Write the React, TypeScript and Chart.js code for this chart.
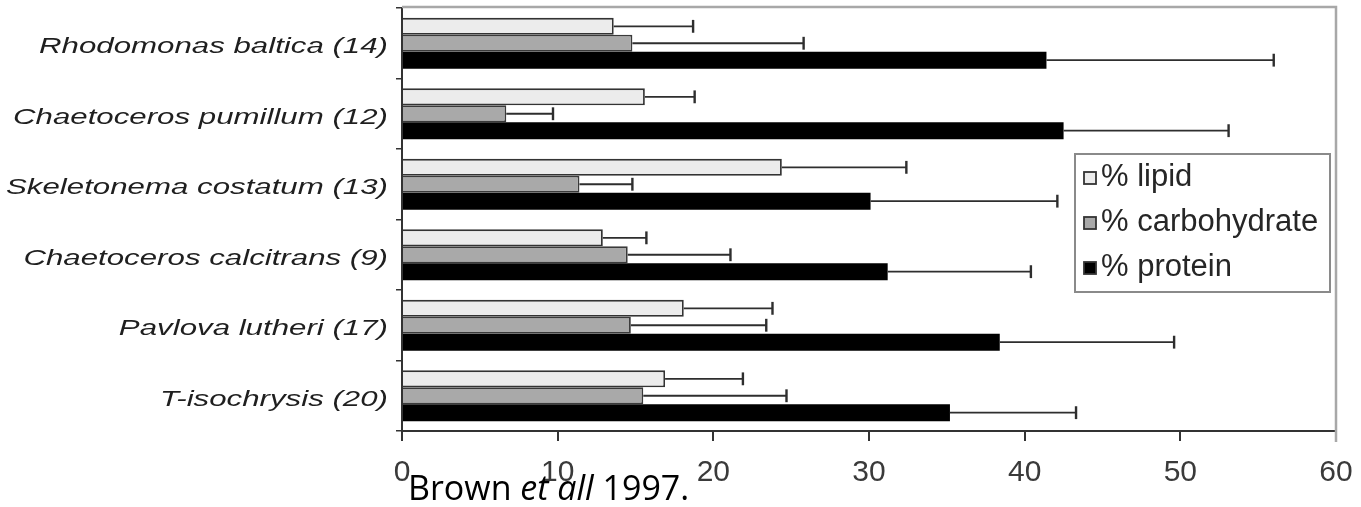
import React, { useEffect, useRef } from "react";
import { Chart, registerables } from "chart.js";

Chart.register(...registerables);

const categories = [
  "Rhodomonas baltica (14)",
  "Chaetoceros pumillum (12)",
  "Skeletonema costatum (13)",
  "Chaetoceros calcitrans (9)",
  "Pavlova lutheri (17)",
  "T-isochrysis (20)",
];
const seriesNames = ["% lipid", "% carbohydrate", "% protein"];
const lipid = [13.6, 15.6, 24.4, 12.9, 18.1, 16.9];
const lipidErr = [5.1, 3.2, 8.0, 2.8, 5.7, 5.0];
const carbohydrate = [14.8, 6.7, 11.4, 14.5, 14.7, 15.5];
const carbohydrateErr = [11.0, 3.0, 3.4, 6.6, 8.7, 9.2];
const protein = [41.4, 42.5, 30.1, 31.2, 38.4, 35.2];
const proteinErr = [14.6, 10.6, 12.0, 9.2, 11.2, 8.1];
const xTicks = [0, 10, 20, 30, 40, 50, 60];

const fills = ["#ececec", "#a9a9a9", "#000000"];
const borders = ["#333333", "#3a3a3a", "#000000"];
const errors = [lipidErr, carbohydrateErr, proteinErr];

const errorBarPlugin = {
  id: "errorBars",
  afterDatasetsDraw(chart: any) {
    const ctx = chart.ctx;
    const xs = chart.scales.x;
    ctx.save();
    chart.data.datasets.forEach((ds: any, di: number) => {
      const meta = chart.getDatasetMeta(di);
      meta.data.forEach((bar: any, i: number) => {
        const v = ds.data[i];
        const end = xs.getPixelForValue(v + errors[di][i]);
        const h = bar.height;
        ctx.strokeStyle = "#2e2e2e";
        ctx.lineWidth = 1.8;
        ctx.beginPath();
        ctx.moveTo(bar.x, bar.y);
        ctx.lineTo(end, bar.y);
        ctx.stroke();
        ctx.lineWidth = 2.4;
        ctx.beginPath();
        ctx.moveTo(end, bar.y - h * 0.38);
        ctx.lineTo(end, bar.y + h * 0.38);
        ctx.stroke();
      });
    });
    ctx.restore();
  },
};

const framePlugin = {
  id: "frameAndLabels",
  beforeDatasetsDraw(chart: any) {
    const { ctx, chartArea: a } = chart;
    ctx.save();
    ctx.strokeStyle = "#a8a8a8";
    ctx.lineWidth = 2.5;
    ctx.beginPath();
    ctx.moveTo(a.left, a.top - 1);
    ctx.lineTo(a.right, a.top - 1);
    ctx.lineTo(a.right, a.bottom + 11);
    ctx.stroke();
    ctx.restore();
  },
  afterDraw(chart: any) {
    const { ctx, chartArea: a } = chart;
    const ys = chart.scales.y;
    ctx.save();
    // stretched category labels
    ctx.fillStyle = "#1f1f1f";
    ctx.font = 'italic 22px "Liberation Sans", Arial, sans-serif';
    ctx.textAlign = "right";
    ctx.textBaseline = "middle";
    categories.forEach((c, i) => {
      const y = ys.getPixelForValue(i) + 4;
      ctx.save();
      ctx.translate(a.left - 14, y);
      ctx.scale(1.42, 1);
      ctx.fillText(c, 0, 0);
      ctx.restore();
    });
    // legend box
    const lx = a.right - 261;
    const ly = a.top + 146;
    const lw = 255;
    const lh = 138;
    ctx.fillStyle = "#fff";
    ctx.fillRect(lx, ly, lw, lh);
    ctx.strokeStyle = "#8a8a8a";
    ctx.lineWidth = 2;
    ctx.strokeRect(lx, ly, lw, lh);
    ctx.font = '31px "Liberation Sans", Arial, sans-serif';
    ctx.textAlign = "left";
    ctx.textBaseline = "middle";
    seriesNames.forEach((n, i) => {
      const cy = ly + 24 + i * 45;
      ctx.fillStyle = fills[i];
      ctx.fillRect(lx + 9, cy - 6, 12, 12);
      ctx.strokeStyle = "#333";
      ctx.lineWidth = 1.8;
      ctx.strokeRect(lx + 9, cy - 6, 12, 12);
      ctx.fillStyle = "#262626";
      ctx.fillText(n, lx + 26, cy - 1);
    });
    ctx.restore();
  },
};

export default function App() {
  const ref = useRef<HTMLCanvasElement | null>(null);
  useEffect(() => {
    if (!ref.current) return;
    const chart = new Chart(ref.current, {
      type: "bar",
      data: {
        labels: categories,
        datasets: [lipid, carbohydrate, protein].map((d, i) => ({
          label: seriesNames[i],
          data: d,
          backgroundColor: fills[i],
          borderColor: borders[i],
          borderWidth: i === 2 ? 0 : 1.8,
          categoryPercentage: 0.72,
          barPercentage: 1,
        })),
      },
      options: {
        indexAxis: "y",
        animation: false,
        responsive: true,
        maintainAspectRatio: false,
        layout: { padding: { left: 0, right: 25, top: 8, bottom: 0 } },
        plugins: {
          legend: { display: false },
          tooltip: { enabled: false },
        },
        scales: {
          x: {
            type: "linear",
            min: xTicks[0],
            max: xTicks[xTicks.length - 1],
            afterBuildTicks: (s: any) => {
              s.ticks = xTicks.map((v) => ({ value: v }));
            },
            afterFit: (s: any) => {
              s.height = 76;
              s.paddingLeft = 0;
              s.paddingRight = 0;
            },
            border: { display: true, color: "#333", width: 2 },
            grid: {
              display: true,
              drawOnChartArea: false,
              drawTicks: true,
              tickLength: 10,
              color: "#333",
              lineWidth: 2,
            },
            ticks: {
              color: "#3a3a3a",
              padding: 14,
              font: { family: '"Liberation Sans", Arial, sans-serif', size: 30 },
            },
          },
          y: {
            type: "category",
            afterFit: (s: any) => {
              s.width = 402;
              s.paddingTop = 0;
              s.paddingBottom = 0;
            },
            border: { display: true, color: "#333", width: 2 },
            grid: {
              display: true,
              offset: true,
              drawOnChartArea: false,
              drawTicks: true,
              tickLength: 6,
              color: "#333",
              lineWidth: 1.5,
            },
            ticks: { display: false },
          },
        },
      },
      plugins: [framePlugin, errorBarPlugin],
    });
    return () => chart.destroy();
  }, []);

  return (
    <div style={{ position: "absolute", left: 0, top: 0, width: 1361, height: 507, background: "#fff" }}>
      <canvas ref={ref} style={{ width: "100%", height: "100%" }} />
      <div
        style={{
          position: "absolute",
          left: 408,
          top: 470,
          font: '34px "Open Sans", "Liberation Sans", sans-serif',
          lineHeight: "34px",
          color: "#000",
          whiteSpace: "nowrap",
        }}
      >
        Brown <i>et all</i> 1997.
      </div>
    </div>
  );
}
